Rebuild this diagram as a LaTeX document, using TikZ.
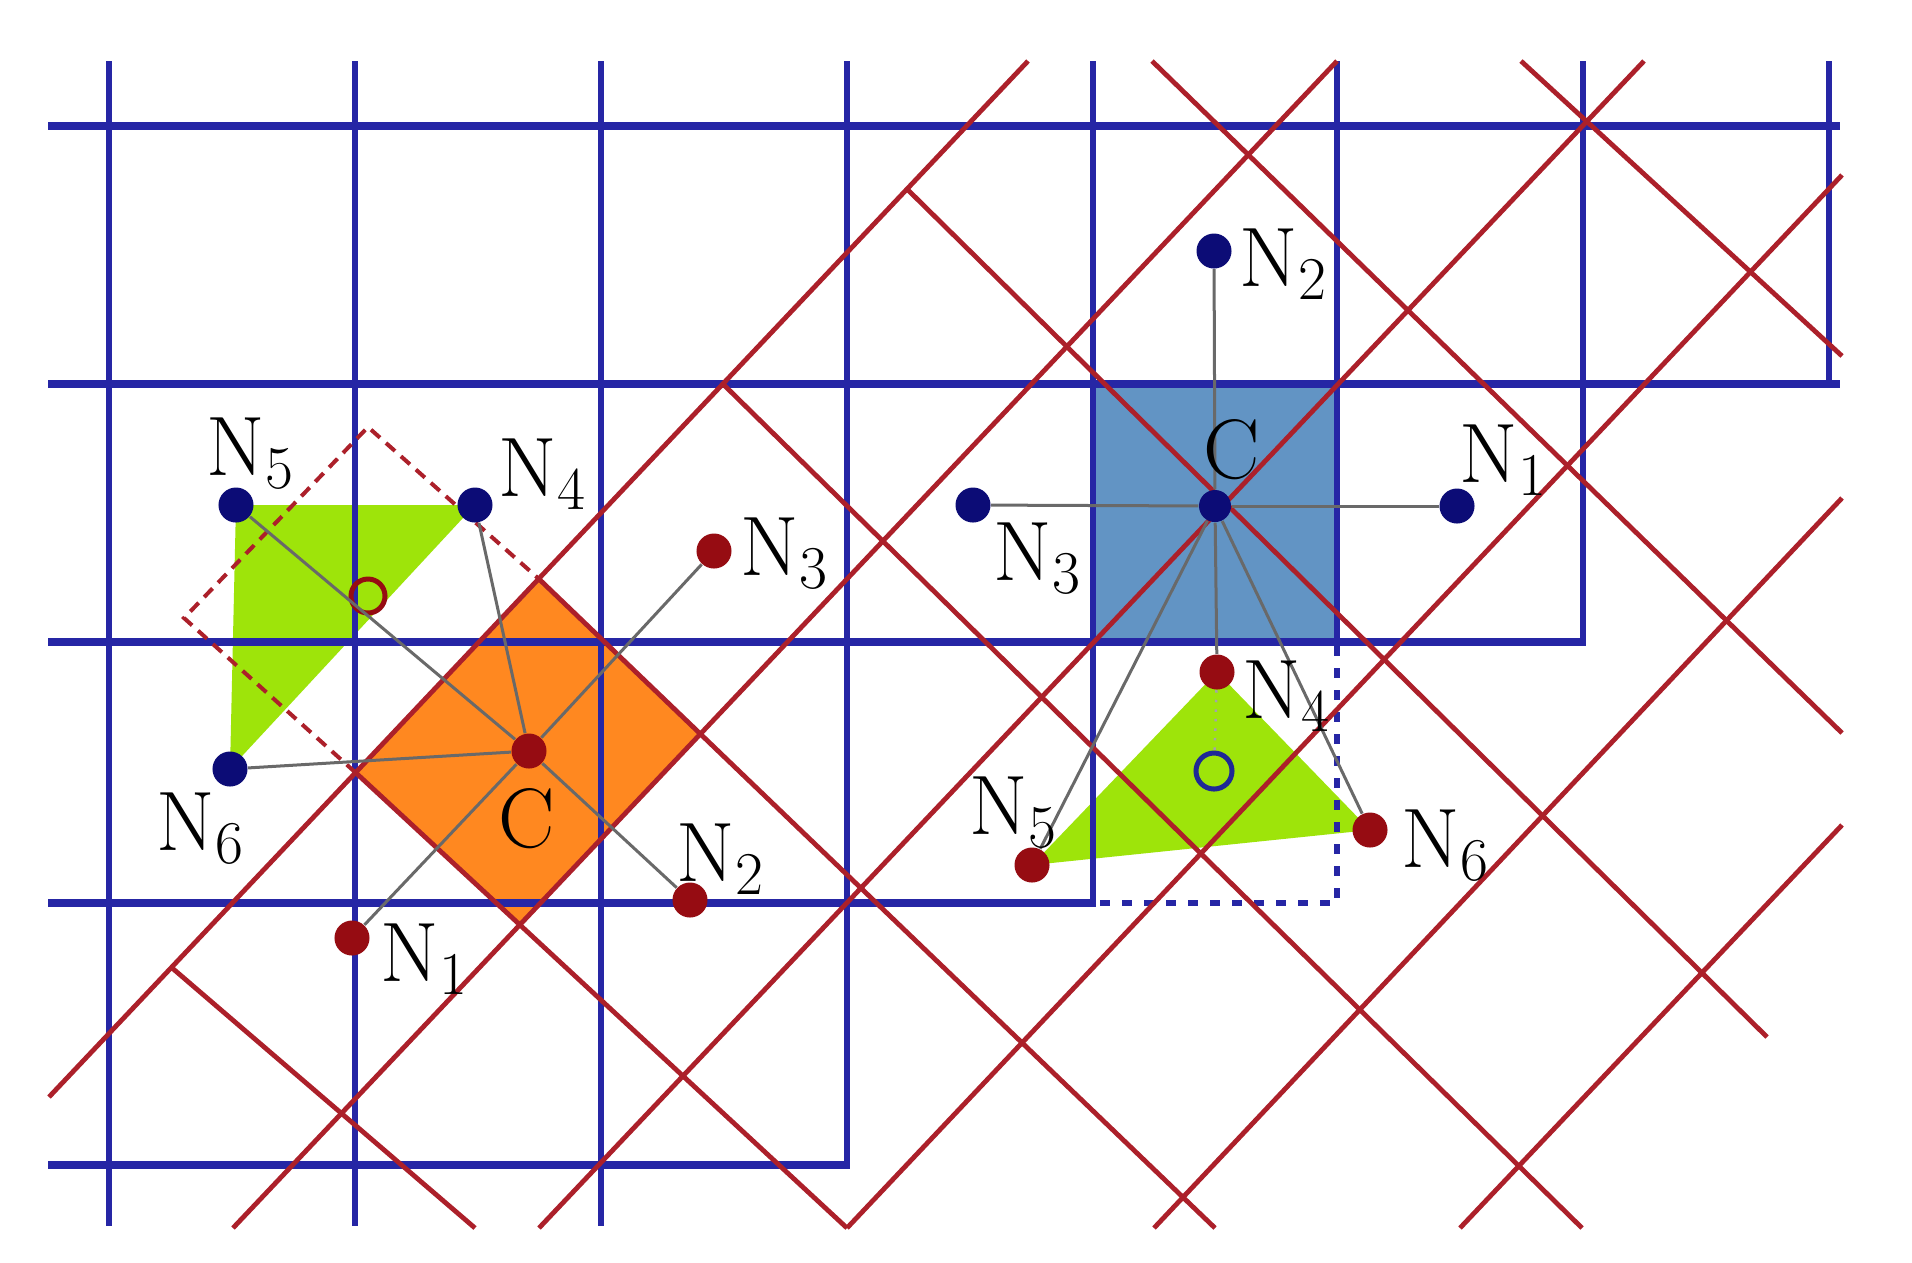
\documentclass[tikz,border=0pt]{standalone}
\definecolor{gridblue}{RGB}{38,38,165}
\definecolor{gridred}{RGB}{172,32,42}
\definecolor{dotblue}{RGB}{12,12,118}
\definecolor{dotred}{RGB}{150,12,18}
\definecolor{cellorange}{RGB}{255,136,32}
\definecolor{cellblue}{RGB}{98,148,196}
\definecolor{trigreen}{RGB}{158,228,10}
\definecolor{linkgray}{RGB}{105,105,105}
\definecolor{ringblue}{RGB}{30,40,150}
\begin{document}
\begin{tikzpicture}[x=0.01cm,y=-0.01cm,
  bh/.style={gridblue, line width=0.08cm},
  bv/.style={gridblue, line width=0.06cm},
  rl/.style={gridred, line width=0.048cm},
  rdash/.style={gridred, line width=0.04cm, dash pattern=on 0.12cm off 0.08cm},
  bdotted/.style={gridblue, line width=0.065cm, dash pattern=on 0.1cm off 0.12cm},
  link/.style={linkgray, line width=0.03cm},
  bluedot/.style={circle, fill=dotblue, inner sep=0pt, minimum size=0.35cm},
  reddot/.style={circle, fill=dotred, inner sep=0pt, minimum size=0.35cm},
  lbl/.style={inner sep=0pt, font=\fontsize{24}{27}\selectfont, anchor=base west},
  clbl/.style={inner sep=0pt, font=\fontsize{24}{27}\selectfont, anchor=center},
]
\useasboundingbox (0,0) rectangle (1912,1262);
\fill[white] (0,0) rectangle (1912,1262);

% red lattice end points
\coordinate (R1a) at (49,1097);   \coordinate (R1b) at (1028,61);
\coordinate (R2a) at (233,1228);  \coordinate (R2b) at (1337,61);
\coordinate (R3a) at (539,1228);  \coordinate (R3b) at (1644,61);
\coordinate (R4a) at (847,1228);  \coordinate (R4b) at (1842,175);
\coordinate (R5a) at (1154,1228); \coordinate (R5b) at (1842,498);
\coordinate (R6a) at (1460,1228); \coordinate (R6b) at (1842,825);
\coordinate (S1a) at (171,967);   \coordinate (S1b) at (475,1228);
\coordinate (S2a) at (355,772);   \coordinate (S2b) at (847,1228);
\coordinate (S3a) at (539,579);   \coordinate (S3b) at (1215,1228);
\coordinate (S4a) at (723,384);   \coordinate (S4b) at (1582,1228);
\coordinate (S5a) at (907,189);   \coordinate (S5b) at (1767,1037);
\coordinate (S6a) at (1152,61);   \coordinate (S6b) at (1842,733);
\coordinate (S7a) at (1521,61);   \coordinate (S7b) at (1842,356);

% orange cell corners
\coordinate (oT) at (intersection of R1a--R1b and S3a--S3b);
\coordinate (oR) at (intersection of R2a--R2b and S3a--S3b);
\coordinate (oB) at (intersection of R2a--R2b and S2a--S2b);
\coordinate (oL) at (intersection of R1a--R1b and S2a--S2b);
% dashed cell corners
\coordinate (dL) at (184,618);
\coordinate (dT) at (368,427);

% point positions
\coordinate (pN5L) at (236,505);
\coordinate (pN4L) at (475,505);
\coordinate (pN6L) at (230,769);
\coordinate (pN3L) at (714,551);
\coordinate (pN2L) at (690,900);
\coordinate (pN1L) at (352,938);
\coordinate (pCL)  at (529,751);
\coordinate (pN2R) at (1214,251);
\coordinate (pN3R) at (973,505);
\coordinate (pN1R) at (1457,506);
\coordinate (pCR)  at (1215,506);
\coordinate (pN4R) at (1217,672);
\coordinate (pN5R) at (1032,865);
\coordinate (pN6R) at (1370,830);

% fills
\fill[cellblue] (1093,384) rectangle (1337,642);
\fill[cellorange] (oL) -- (oT) -- (oR) -- (oB) -- cycle;
\fill[trigreen] (pN5L) -- (pN4L) -- (pN6L) -- cycle;
\fill[trigreen] (pN4R) -- (pN6R) -- (pN5R) -- cycle;

% blue grid
\foreach \x in {109,355,601} \draw[bv] (\x,61) -- (\x,1226);
\draw[bv] (847,61) -- (847,1169);
\draw[bv] (1093,61) -- (1093,907);
\draw[bv] (1337,61) -- (1337,642);
\draw[bv] (1583,61) -- (1583,646);
\draw[bv] (1829,61) -- (1829,388);
\draw[bh] (48,126) -- (1840,126);
\draw[bh] (48,384) -- (1840,384);
\draw[bh] (48,642) -- (1586,642);
\draw[bh] (48,903) -- (1096,903);
\draw[bh] (48,1165) -- (850,1165);
\draw[bdotted] (1337,646) -- (1337,903) -- (1096,903);

% red grid
\foreach \k in {1,...,6} \draw[rl] (R\k a) -- (R\k b);
\foreach \k in {1,...,7} \draw[rl] (S\k a) -- (S\k b);
\draw[rdash] (oL) -- (dL) -- (dT) -- (oT);

% dots
\node[bluedot] (n5L) at (pN5L) {};
\node[bluedot] (n4L) at (pN4L) {};
\node[bluedot] (n6L) at (pN6L) {};
\node[reddot] (n3L) at (pN3L) {};
\node[reddot] (n2L) at (pN2L) {};
\node[reddot] (n1L) at (pN1L) {};
\node[reddot] (cL) at (pCL) {};
\node[bluedot] (n2R) at (pN2R) {};
\node[bluedot] (n3R) at (pN3R) {};
\node[bluedot] (n1R) at (pN1R) {};
\node[bluedot, minimum size=0.32cm] (cR) at (pCR) {};
\node[reddot] (n4R) at (pN4R) {};
\node[reddot] (n5R) at (pN5R) {};
\node[reddot] (n6R) at (pN6R) {};
\node[circle, draw=dotred, line width=0.05cm, inner sep=0pt, minimum size=0.34cm] (ringL) at (368,596) {};
\node[circle, draw=ringblue, line width=0.05cm, inner sep=0pt, minimum size=0.36cm] (ringR) at (1214,771) {};

% connectors
\foreach \n in {n5L,n4L,n6L,n3L,n2L,n1L} \draw[link] (cL) -- (\n);
\foreach \n in {n2R,n3R,n1R,n4R,n5R,n6R} \draw[link] (cR) -- (\n);
\draw[linkgray!60, line width=0.025cm, dotted] (n4R) -- (ringR);

% labels
\node[lbl] (tN5L) at (206,475) {N$_5$};
\node[lbl] (tN4L) at (498,496) {N$_4$};
\node[lbl] (tN3L) at (740,575) {N$_3$};
\node[lbl] (tN6L) at (156,850) {N$_6$};
\node[lbl] (tN2L) at (676,881) {N$_2$};
\node[lbl] (tN1L) at (380,981) {N$_1$};
\node[clbl] (tCL) at (527,819) {C};
\node[lbl] (tN2R) at (1239,286) {N$_2$};
\node[lbl] (tN1R) at (1459,482) {N$_1$};
\node[lbl] (tN3R) at (993,580) {N$_3$};
\node[lbl] (tN4R) at (1242,718) {N$_4$};
\node[lbl] (tN5R) at (969,834) {N$_5$};
\node[lbl] (tN6R) at (1401,867) {N$_6$};
\node[clbl] (tCR) at (1232,450) {C};
\end{tikzpicture}
\end{document}
